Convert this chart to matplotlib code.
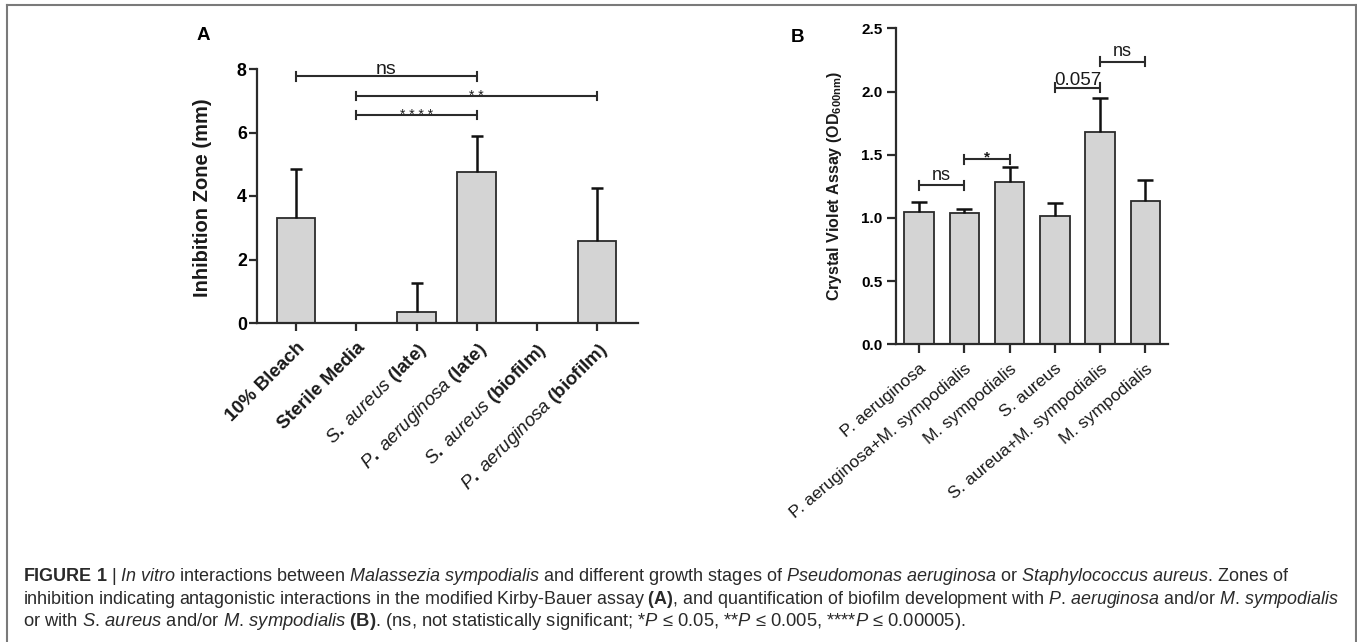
import matplotlib
matplotlib.use('Agg')
import matplotlib.pyplot as plt
from matplotlib.lines import Line2D

plt.rcParams['font.family'] = ['Liberation Sans', 'DejaVu Sans']
plt.rcParams['mathtext.fontset'] = 'custom'
plt.rcParams['mathtext.rm'] = 'Liberation Sans'
plt.rcParams['mathtext.it'] = 'Liberation Sans:italic'
plt.rcParams['mathtext.bf'] = 'Liberation Sans:bold'


def _wrap(cmd, w, lead=''):
    tail = ''
    while w and w[-1] in '.,':
        tail = w[-1] + tail
        w = w[:-1]
    return (r'$%s\%s{%s}$' % (lead, cmd, w) if w else '') + tail


def it(s, thin=False):
    words = s.split()
    out = [_wrap('mathit', w, r'\,' if (thin and k > 0) else '') for k, w in enumerate(words)]
    return ' '.join(out)


def bf(s):
    return ' '.join(r'$\mathbf{%s}$' % w for w in s.split())


# ---------------- data ----------------
a_labels = ['10% Bleach', 'Sterile Media',
            it('S. aureus', True) + ' (late)', it('P. aeruginosa', True) + ' (late)',
            it('S. aureus', True) + ' (biofilm)', it('P. aeruginosa', True) + ' (biofilm)']
a_means = [3.30, 0.0, 0.36, 4.77, 0.0, 2.58]
a_errs = [1.55, 0.0, 0.91, 1.13, 0.0, 1.68]
a_yticks = [0, 2, 4, 6, 8]
a_brackets = [(0, 3, 7.77, 'ns'), (1, 5, 7.15, '* *'), (1, 3, 6.55, '* * * *')]

b_labels = ['P. aeruginosa', 'P. aeruginosa+M. sympodialis', 'M. sympodialis',
            'S. aureus', 'S. aureua+M. sympodialis', 'M. sympodialis']
b_means = [1.047, 1.040, 1.284, 1.013, 1.682, 1.136]
b_errs = [0.081, 0.030, 0.116, 0.105, 0.269, 0.161]
b_yticks = [0.0, 0.5, 1.0, 1.5, 2.0, 2.5]
b_brackets = [(0, 1, 1.258, 'ns'), (1, 2, 1.463, '*'), (3, 4, 2.030, '0.057'), (4, 5, 2.236, 'ns')]

caption_lines = [
    bf('FIGURE 1') + ' | ' + it('In vitro') + ' interactions between ' + it('Malassezia sympodialis')
    + ' and different growth stages of ' + it('Pseudomonas aeruginosa') + ' or '
    + it('Staphylococcus aureus') + '. Zones of',
    'inhibition indicating antagonistic interactions in the modified Kirby-Bauer assay '
    + bf('(A)') + ', and quantification of biofilm development with ' + it('P. aeruginosa')
    + ' and/or ' + it('M. sympodialis'),
    'or with ' + it('S. aureus') + ' and/or ' + it('M. sympodialis') + ' ' + bf('(B)')
    + '. (ns, not statistically significant; *' + it('P') + ' ≤ 0.05, **' + it('P')
    + ' ≤ 0.005, ****' + it('P') + ' ≤ 0.00005).',
]

# ---------------- layout helpers ----------------
W, H = 1357, 642
DPI = 100
fig = plt.figure(figsize=(W / DPI, H / DPI), dpi=DPI)


def fx(x):
    return x / W


def fy(y):
    return 1 - y / H


def axes_px(left, right, top, bottom):
    return fig.add_axes([fx(left), fy(bottom), (right - left) / W, (bottom - top) / H])


EDGE = '#2b2b2b'
FILL = '#d4d4d4'


def style_axes(ax, tick_fs, ticklen):
    for s in ['top', 'right']:
        ax.spines[s].set_visible(False)
    for s in ['left', 'bottom']:
        ax.spines[s].set_linewidth(1.6)
        ax.spines[s].set_color(EDGE)
    ax.tick_params(axis='both', direction='out', length=ticklen, width=1.6, color=EDGE)
    ax.tick_params(axis='y', labelsize=tick_fs, pad=1.5)
    for t in ax.get_yticklabels():
        t.set_fontweight('bold')


def upper_errors(ax, xs, means, errs, capsize, lw=1.8):
    for xi, m, e in zip(xs, means, errs):
        if e <= 0:
            continue
        ax.plot([xi, xi], [m, m + e], color='#111111', lw=lw, solid_capstyle='butt', zorder=3)
        ax.plot([xi], [m + e], marker='_', markersize=2 * capsize, markeredgewidth=lw,
                color='#111111', zorder=3)


def draw_bracket(ax, i1, i2, y, label, dtick, fs, dy_text, weight='normal'):
    ax.plot([i1, i2], [y, y], color=EDGE, lw=1.5, clip_on=False, solid_capstyle='butt')
    for xi in (i1, i2):
        ax.plot([xi, xi], [y - dtick, y + dtick], color=EDGE, lw=1.5, clip_on=False)
    ax.text((i1 + i2) / 2, y + dy_text, label, ha='center', va='baseline', fontsize=fs,
            color='#1a1a1a', clip_on=False, fontweight=weight)


# ---------------- Panel A ----------------
axA = axes_px(257, 638, 69, 323)
xa = list(range(len(a_means)))
axA.bar(xa, a_means, width=0.64, color=FILL, edgecolor=EDGE, linewidth=1.3, zorder=2)
upper_errors(axA, xa, a_means, a_errs, 4.2)
axA.set_xlim(-0.65, 5.68)
axA.set_ylim(0, 8)
axA.set_yticks(a_yticks)
axA.set_xticks(xa)
style_axes(axA, 12.8, 5.8)
axA.set_xticklabels(a_labels, rotation=45, ha='right', va='top', rotation_mode='anchor',
                    fontsize=13.5, fontweight='bold', color='#1a1a1a')
axA.tick_params(axis='x', pad=6)
for (i1, i2, y, lab) in a_brackets:
    if lab == 'ns':
        draw_bracket(axA, i1, i2, y, lab, 0.14, 14, 0.08)
    else:
        draw_bracket(axA, i1, i2, y, lab, 0.14, 10, -0.13)

fig.text(fx(203), fy(36), 'A', fontsize=13.5, fontweight='bold', ha='center', va='center')
fig.text(fx(202), fy(198), 'Inhibition Zone (mm)', fontsize=14.5, fontweight='bold',
         rotation=90, ha='center', va='center', color='#1a1a1a')

# ---------------- Panel B ----------------
axB = axes_px(896, 1168, 28.3, 344.3)
xb = list(range(len(b_means)))
axB.bar(xb, b_means, width=0.655, color=FILL, edgecolor=EDGE, linewidth=1.3, zorder=2)
upper_errors(axB, xb, b_means, b_errs, 5.5)
axB.set_xlim(-0.51, 5.5)
axB.set_ylim(0, 2.5)
axB.set_yticks(b_yticks)
axB.set_yticklabels(['%.1f' % v for v in b_yticks])
axB.set_xticks(xb)
style_axes(axB, 11, 6.7)
axB.tick_params(axis='y', pad=3)
axB.set_xticklabels(b_labels, rotation=40, ha='right', va='top', rotation_mode='anchor',
                    fontsize=12.5, color='#1a1a1a')
axB.tick_params(axis='x', pad=5.5)
for (i1, i2, y, lab) in b_brackets:
    if lab == '*':
        draw_bracket(axB, i1, i2, y, lab, 0.035, 11, -0.02, weight='bold')
    elif lab == 'ns':
        draw_bracket(axB, i1, i2, y, lab, 0.035, 13, 0.045)
    else:
        draw_bracket(axB, i1, i2, y, lab, 0.035, 13.5, 0.018)

fig.text(fx(798), fy(37), 'B', fontsize=13.5, fontweight='bold', ha='center', va='center')
fig.text(fx(834), fy(186), r'Crystal Violet Assay (OD$_{\mathbf{600nm}}$)', fontsize=11.5,
         fontweight='bold', rotation=90, ha='center', va='center', color='#1a1a1a')

# ---------------- caption ----------------
for yb, fs, line in zip([580.7, 603.5, 626.2], [12.95, 12.9, 13.2], caption_lines):
    fig.text(fx(22.7), fy(yb), line, fontsize=fs, ha='left', va='baseline', color='#2a2a2a')

# ---------------- frame ----------------
fc = '#7a7a7a'
fig.add_artist(Line2D([fx(7.3), fx(7.3)], [fy(5.3), fy(H + 2)], color=fc, lw=1.5))
fig.add_artist(Line2D([fx(7.3), fx(1355.5)], [fy(5.3), fy(5.3)], color=fc, lw=1.5))
fig.add_artist(Line2D([fx(1355.5), fx(1355.5)], [fy(5.3), fy(H + 2)], color=fc, lw=1.5))

fig.savefig('out.png', dpi=DPI)
